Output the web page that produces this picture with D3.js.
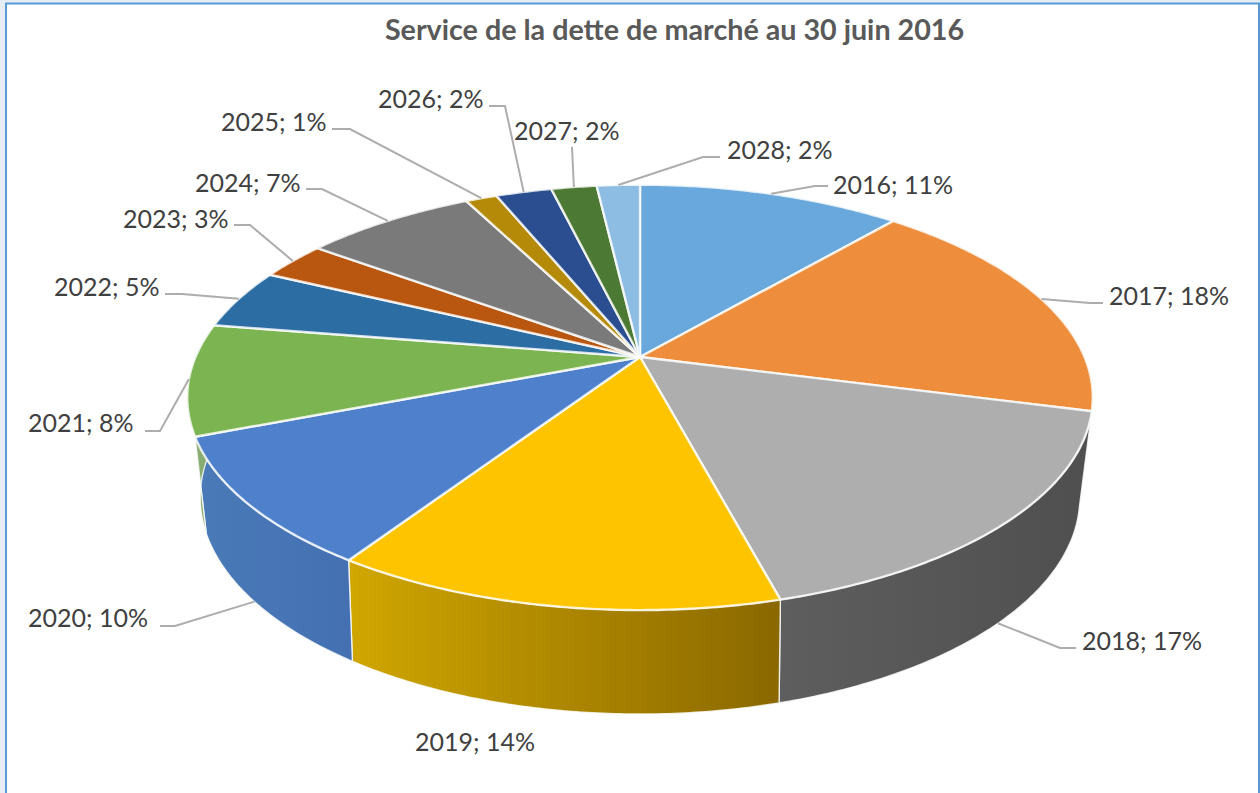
<!DOCTYPE html>
<html><head><meta charset="utf-8">
<script src="https://cdn.jsdelivr.net/npm/d3@7"></script>
<style>html,body{margin:0;padding:0;background:#fff;overflow:hidden}svg{display:block}text{font-family:Lato,"Open Sans",sans-serif}</style>
</head><body><svg id="c" width="1260" height="793"></svg>
<script>
const titleText = "Service de la dette de marché au 30 juin 2016";
const years  = [2016,2017,2018,2019,2020,2021,2022,2023,2024,2025,2026,2027,2028];
const shares = [11.3,17.75,16.8,13.45,9.8,8.45,4.6,2.9,7.4,1.35,2.4,1.95,1.85];
const labels = [11,18,17,14,10,8,5,3,7,1,2,2,2];
const topColors = ["#69a8dc","#ee8d3c","#aeaeae","#ffc400","#4e80cc","#7cb452","#2c6da4","#b9560f","#7a7a7a","#b58a08","#2a4e8f","#4c7a34","#8dbde3"];
const wallColors = {2018:["#5e5e5e","#4f4f4f"],2019:["#d0a600","#8a6800"],2020:["#4a7ab8","#4470b2"],2021:["#8fb07a","#7fa868"]};

// layout (label placement, not data)
const leaderLevel = {2018:1,2020:1};
const labelLayout = {
 2016:{x:833,y:194,elbow:[[815,186],[828,186]]},
 2017:{x:1109,y:305,elbow:[[1090,303],[1103,303]]},
 2018:{x:1082,y:650,elbow:[[1060,648],[1076,648]]},
 2019:{x:415,y:751,elbow:null},
 2020:{x:28,y:627,elbow:[[175,626],[160,626]]},
 2021:{x:28,y:432,elbow:[[160,431],[145,431]]},
 2022:{x:54,y:296,elbow:[[182,294],[165,294]]},
 2023:{x:123,y:228,elbow:[[250,225],[234,225]]},
 2024:{x:195,y:192,elbow:[[322,189],[306,189]]},
 2025:{x:221,y:131,elbow:[[350,129],[332,129]]},
 2026:{x:378,y:108,elbow:[[505,106],[489,106]]},
 2027:{x:514,y:140,elbow:[[572,147]]},
 2028:{x:727,y:159,elbow:[[703,157],[720,157]]}
};

// projection of the tilted disc: top face and lower rim have their own perspective
const topFace={cx:640,cy:357,A:444.5,B:205,K:0.19};
const lowFace={cx:640,cy:452,A:430,B:207,K:0.21};
function project(angle, level){
  const f=level?lowFace:topFace;
  const u=Math.sin(angle), v=-Math.cos(angle), w=1-f.K*v;
  return [f.cx+f.A*u/w, f.cy+f.B*v/w];
}
function arcPts(a,b,level){
  const n=Math.max(2,Math.ceil(Math.abs(b-a)/0.01));
  return d3.range(n+1).map(i=>project(a+(b-a)*i/n,level));
}
const svg=d3.select("#c");
const line=d3.line();
const slices=d3.pie().sort(null).value(d=>d)(shares).map((s,i)=>({...s,year:years[i],i}));

// page behind the frame
svg.append("rect").attr("width",1260).attr("height",793).attr("fill","#e6edf5");
svg.append("rect").attr("x",6).attr("y",3.5).attr("width",1253).attr("height",800)
  .attr("fill","#fff").attr("stroke","#5b9bd5").attr("stroke-width",2);
svg.append("text").attr("x",674.5).attr("y",40).attr("text-anchor","middle")
  .attr("font-size",28.7).attr("font-weight",700).attr("fill","#595959").text(titleText);

const defs=svg.append("defs");
// walls
const walls=slices.filter(s=>wallColors[s.year]);
const wallEnd={2021:275*Math.PI/180};
walls.forEach(s=>{
  const end=wallEnd[s.year]||s.endAngle;
  const a=arcPts(s.startAngle,end,0), b=arcPts(s.startAngle,end,1).reverse();
  const xs=[...a,...b].map(p=>p[0]);
  const [left,right]=d3.extent(xs);
  const colors=wallColors[s.year];
  const id="w"+s.year;
  const g=defs.append("linearGradient").attr("id",id).attr("gradientUnits","userSpaceOnUse")
    .attr("x1",left).attr("x2",right).attr("y1",0).attr("y2",0);
  g.append("stop").attr("offset",0).attr("stop-color",colors[0]);
  g.append("stop").attr("offset",1).attr("stop-color",colors[1]);
  svg.append("path").attr("d",line([...a,...b])+"Z").attr("fill",`url(#${id})`)
    .attr("stroke","#fff").attr("stroke-opacity",0.8).attr("stroke-width",1.4).attr("stroke-linejoin","round");
});
// top surface
svg.append("g").selectAll("path").data(slices).join("path")
  .attr("d",s=>line([[topFace.cx,topFace.cy],...arcPts(s.startAngle,s.endAngle,0)])+"Z")
  .attr("fill",s=>topColors[s.i]).attr("stroke","#fff").attr("stroke-opacity",0.8)
  .attr("stroke-width",2.4).attr("stroke-linejoin","round");
// leaders
svg.append("g").selectAll("path").data(slices.filter(s=>labelLayout[s.year].elbow)).join("path")
  .attr("d",s=>{
    const p=project((s.startAngle+s.endAngle)/2,leaderLevel[s.year]||0);
    return line([p,...labelLayout[s.year].elbow]);
  }).attr("fill","none").attr("stroke","#adadad").attr("stroke-width",2);
// labels
svg.append("g").selectAll("text").data(slices).join("text")
  .attr("x",s=>labelLayout[s.year].x).attr("y",s=>labelLayout[s.year].y)
  .attr("font-size",25).attr("fill","#404040").text(s=>`${s.year}; ${labels[s.i]}%`);
</script></body></html>
